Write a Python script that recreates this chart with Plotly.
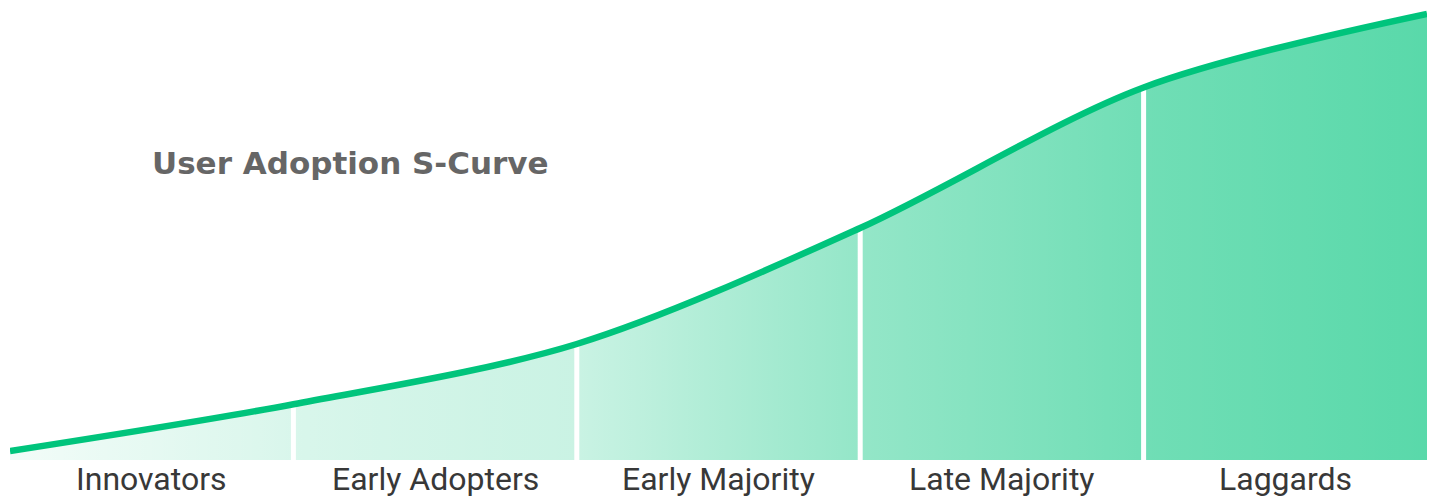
import plotly.graph_objects as go

# ---- data ----
stages = ["Innovators", "Early Adopters", "Early Majority", "Late Majority", "Laggards"]
boundary_x = [0, 1, 2, 3, 4, 5]
adoption = [2.0, 12.5, 26.0, 52.0, 83.5, 100.0]
title_text = "User Adoption S-Curve"

LINE = "#00C47C"

fig = go.Figure()

# gradient area
fig.add_trace(go.Scatter(
    x=boundary_x, y=adoption, mode="lines",
    line=dict(shape="spline", smoothing=0.9, width=0, color="rgba(0,0,0,0)"),
    fill="tozeroy",
    fillgradient=dict(
        type="horizontal",
        colorscale=[
            [0.0, "rgba(0,196,124,0.05)"],
            [0.2, "rgba(0,196,124,0.15)"],
            [0.4, "rgba(0,196,124,0.21)"],
            [0.6, "rgba(0,196,124,0.42)"],
            [0.8, "rgba(0,196,124,0.56)"],
            [1.0, "rgba(0,196,124,0.65)"],
        ],
    ),
    hoverinfo="skip", showlegend=False,
))

# white dividers between stages
for i in range(1, len(boundary_x) - 1):
    fig.add_trace(go.Scatter(
        x=[boundary_x[i], boundary_x[i]], y=[0, adoption[i]],
        mode="lines", line=dict(color="white", width=5),
        hoverinfo="skip", showlegend=False,
    ))

# curve
fig.add_trace(go.Scatter(
    x=boundary_x, y=adoption, mode="lines",
    line=dict(shape="spline", smoothing=0.9, width=6.5, color=LINE),
    hoverinfo="skip", showlegend=False,
))

annotations = [dict(
    text="<b>%s</b>" % title_text, xref="paper", yref="paper",
    x=(150 - 10) / 1417, y=(460 - 163) / 460, xanchor="left", yanchor="middle",
    showarrow=False, font=dict(family="DejaVu Sans", size=31, color="#666666"),
)]
for i, s in enumerate(stages):
    annotations.append(dict(
        text=s, x=i + 0.5, xref="x", y=0, yref="paper", yshift=-19,
        xanchor="center", yanchor="middle", showarrow=False,
        font=dict(family="Roboto", size=32, color="#383838"),
    ))

fig.update_layout(
    width=1435, height=497,
    margin=dict(l=10, r=8, t=0, b=37),
    paper_bgcolor="white", plot_bgcolor="white",
    hovermode=False,
    xaxis=dict(range=[0, 5], showticklabels=False, showgrid=False,
               zeroline=False, showline=False, ticks=""),
    yaxis=dict(range=[0, 103.1], visible=False, showgrid=False, zeroline=False),
    annotations=annotations,
)

fig.write_html("out.html", config={"displayModeBar": False},
               post_script="document.body.style.margin='0';")
